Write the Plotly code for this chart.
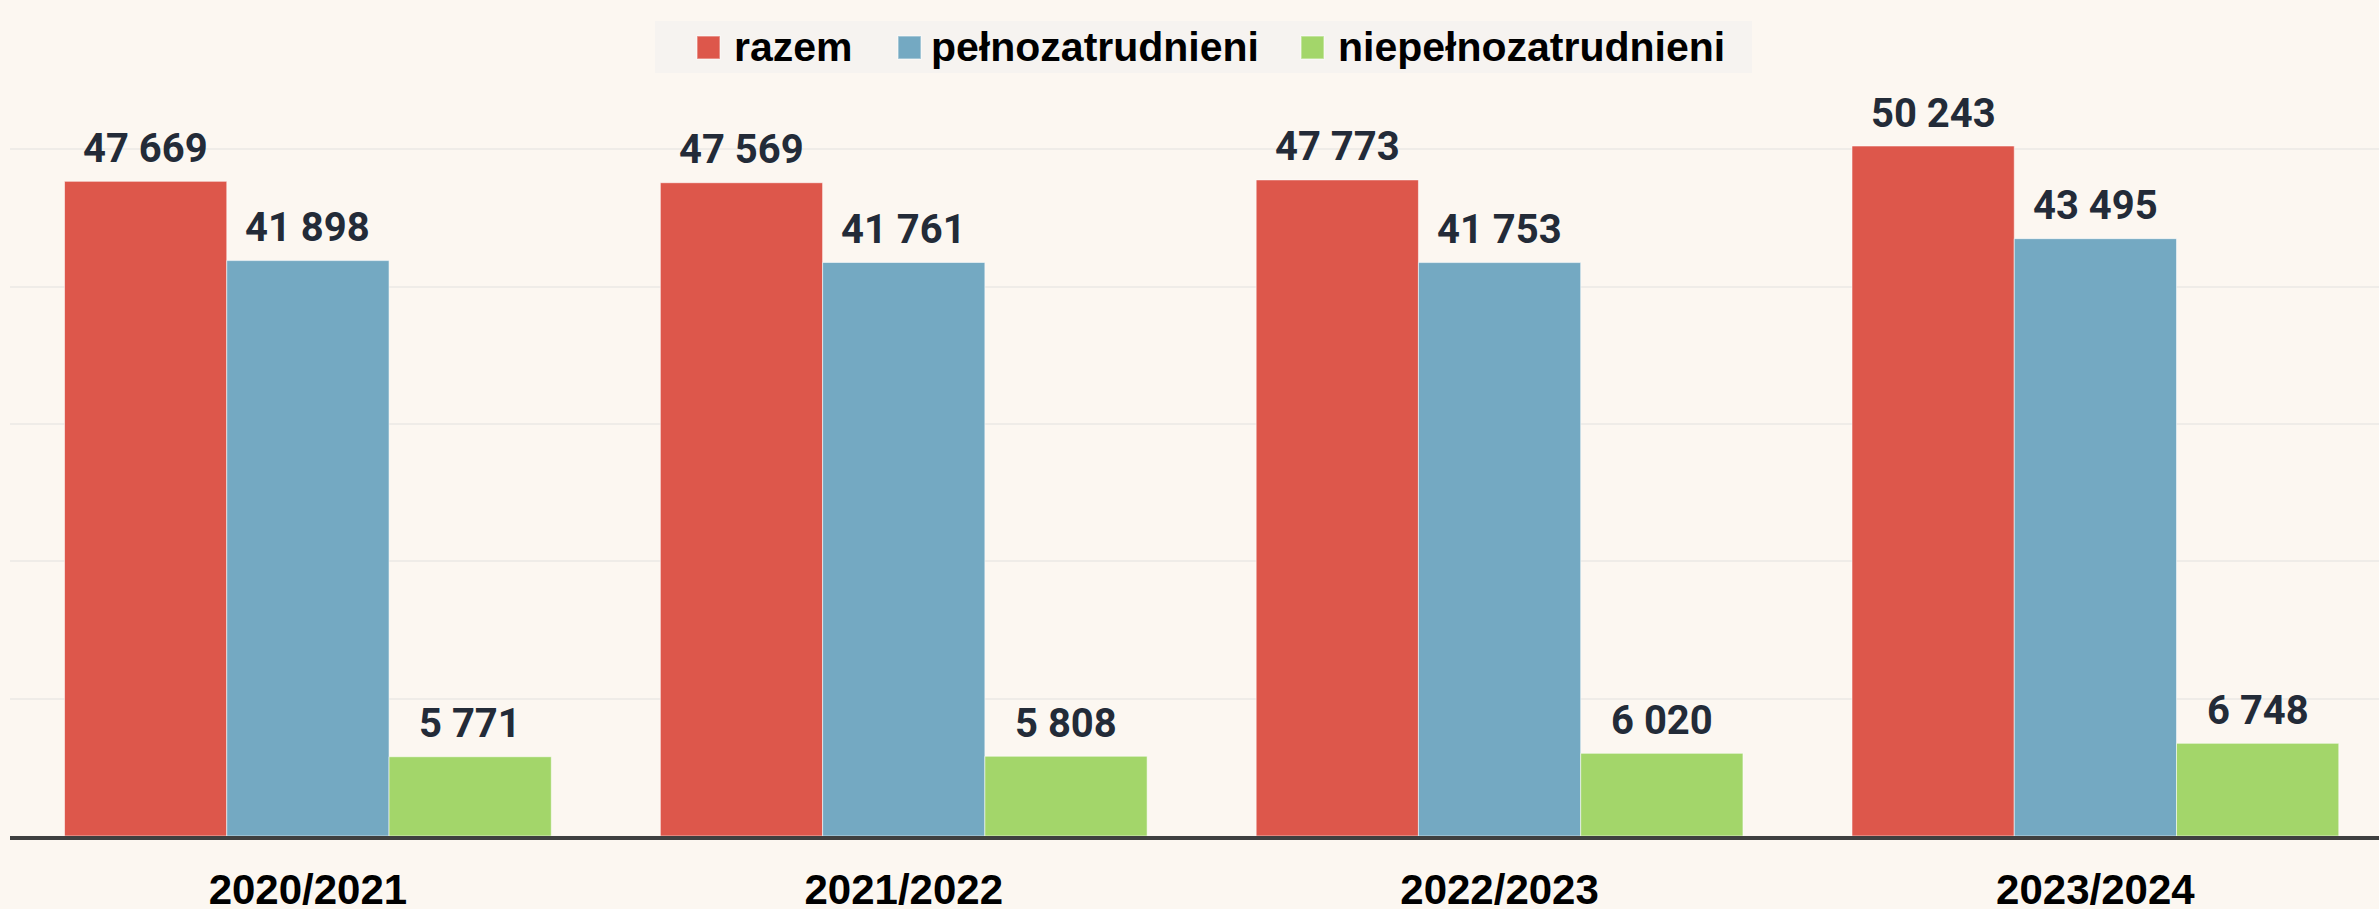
import plotly.graph_objects as go

categories = ["2020/2021", "2021/2022", "2022/2023", "2023/2024"]
series_names = ["razem", "pełnozatrudnieni", "niepełnozatrudnieni"]
razem = [47669, 47569, 47773, 50243]
pelno = [41898, 41761, 41753, 43495]
niepelno = [5771, 5808, 6020, 6748]
colors = ["#DD574B", "#74A9C2", "#A3D66A"]

series_values = [razem, pelno, niepelno]

def fmt(v):
    return f"{v:,}".replace(",", " ")

W, H = 2379, 909
ML, MR, MT, MB = 10, 0, 12, 73
PW, PH = W - ML - MR, H - MT - MB

def px_x(px):
    return (px - ML) / PW

def px_y(py):
    return (H - MB - py) / PH

BARGAP = 0.183
bar_w = (1 - BARGAP) / 3

fig = go.Figure()
for name, vals, col in zip(series_names, series_values, colors):
    fig.add_trace(go.Bar(
        x=categories, y=vals, name=name, showlegend=False,
        marker=dict(color=col, line=dict(color="rgba(255,255,255,0.55)", width=1)),
        hoverinfo="skip",
    ))

annotations = []
for i, vals in enumerate(series_values):
    for k, v in enumerate(vals):
        annotations.append(dict(
            x=k + (i - 1) * bar_w, y=v, xref="x", yref="y",
            text=fmt(v), showarrow=False, yanchor="middle", yshift=33,
            font=dict(family="Roboto", size=40, color="#232B38", weight="bold"),
        ))

# custom legend (box, squares, labels)
shapes = []
shapes.append(dict(
    type="rect", xref="paper", yref="paper",
    x0=px_x(655), x1=px_x(1752), y0=px_y(73), y1=px_y(21),
    fillcolor="#F6F3F0", line=dict(width=0), layer="above",
))
legend_marker_left = [697, 898, 1301]
legend_text_left = [732, 929, 1336]
for name, col, mx, tx in zip(series_names, colors, legend_marker_left, legend_text_left):
    shapes.append(dict(
        type="rect", xref="paper", yref="paper",
        x0=px_x(mx), x1=px_x(mx + 23), y0=px_y(59), y1=px_y(36),
        fillcolor=col, line=dict(color="rgba(255,255,255,0.45)", width=1.5), layer="above",
    ))
    annotations.append(dict(
        x=px_x(tx), y=px_y(47), xref="paper", yref="paper",
        xanchor="left", yanchor="middle", showarrow=False, text=name,
        font=dict(family="Liberation Sans", size=41, color="#000000", weight="bold"),
    ))

fig.update_layout(
    width=W, height=H,
    paper_bgcolor="#FCF7F1", plot_bgcolor="#FCF7F1",
    margin=dict(l=ML, r=MR, t=MT, b=MB, autoexpand=False),
    barmode="group", bargap=BARGAP, bargroupgap=0,
    showlegend=False,
    annotations=annotations,
    shapes=shapes,
    xaxis=dict(
        type="category", range=[-0.5, 3.476], automargin=False,
        showline=True, linecolor="#3F4040", linewidth=4,
        showgrid=False, ticks="",
        tickfont=dict(family="Liberation Sans", size=42, color="#000000", weight="bold"),
        ticklabelstandoff=14,
    ),
    yaxis=dict(
        range=[0, 60000], dtick=10000, showticklabels=False, automargin=False,
        showgrid=True, gridcolor="#EFECE8", gridwidth=2, zeroline=False,
    ),
)

fig.write_html(
    "out.html",
    config={"displayModeBar": False},
    post_script="document.body.style.margin='0';document.body.style.background='#FCF7F1';",
)
